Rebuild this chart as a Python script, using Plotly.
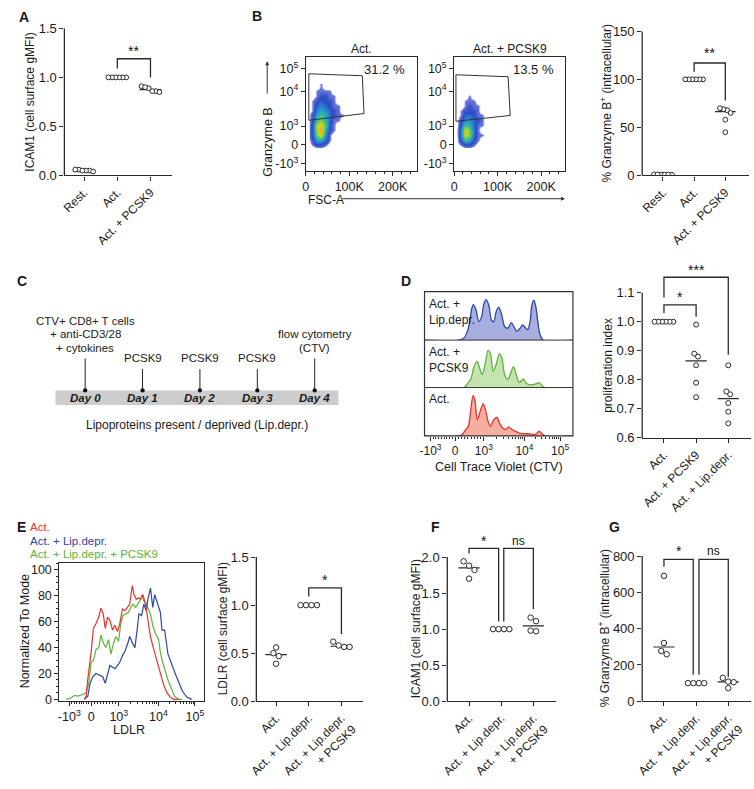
import numpy as np
import plotly.graph_objects as go

W, H = 754, 789
FONT = "Liberation Sans, Arial, sans-serif"
INK = "#2a2a2a"

# ------------------------------------------------------------------ data
A_cats = ["Rest.", "Act.", "Act. + PCSK9"]
A_vals = [[0.05, 0.06, 0.04, 0.05, 0.06, 0.05],
          [1.0, 1.0, 1.0, 1.0, 1.0, 1.0],
          [0.91, 0.86, 0.89, 0.85, 0.90, 0.86]]

B_cats = ["Rest.", "Act.", "Act. + PCSK9"]
B_vals = [[1.0, 1.2, 0.8, 1.0, 1.1, 0.9],
          [100, 100, 100, 100, 100, 100],
          [68, 65, 69, 70, 58, 45]]

B_pct = ["31.2 %", "13.5 %"]
B_titles = ["Act.", "Act. + PCSK9"]
# density of events (FSC-A in K, Granzyme B display channel)
B_fsc = [5, 15, 25, 35, 45, 55, 65, 75, 85, 95]
B_gzb = [22, 27, 32, 37, 42, 47, 52, 57, 62, 67, 72, 77, 82, 87]
B_dens_act = [
    [0, 0, 0, 0, 0, 0, 0, 0, 0, 0],
    [0, 1, 2, 2, 1, 0, 0, 0, 0, 0],
    [0, 2, 5, 5, 3, 1, 0, 0, 0, 0],
    [0, 3, 7, 9, 4, 1, 0, 0, 0, 0],
    [0, 3, 8, 10, 5, 2, 1, 0, 0, 0],
    [0, 3, 8, 9, 6, 2, 1, 0, 0, 0],
    [0, 2, 6, 7, 5, 3, 1, 1, 0, 0],
    [0, 2, 5, 6, 5, 3, 2, 1, 1, 0],
    [0, 1, 4, 5, 4, 3, 2, 1, 0, 0],
    [0, 1, 3, 4, 3, 2, 1, 1, 0, 0],
    [0, 1, 2, 3, 2, 2, 1, 0, 0, 0],
    [0, 0, 1, 2, 2, 1, 1, 0, 0, 0],
    [0, 0, 1, 1, 1, 1, 0, 0, 0, 0],
    [0, 0, 0, 1, 0, 0, 0, 0, 0, 0]]
B_dens_pcsk9 = [
    [0, 0, 0, 0, 0, 0, 0, 0, 0, 0],
    [0, 1, 2, 2, 1, 0, 0, 0, 0, 0],
    [0, 3, 6, 5, 2, 1, 0, 0, 0, 0],
    [0, 4, 9, 7, 3, 1, 1, 0, 0, 0],
    [0, 4, 9, 7, 3, 1, 0, 0, 0, 0],
    [0, 3, 6, 5, 3, 1, 1, 0, 0, 0],
    [0, 2, 4, 4, 3, 2, 1, 0, 0, 0],
    [0, 1, 3, 3, 2, 1, 1, 0, 0, 0],
    [0, 1, 2, 2, 2, 1, 0, 0, 0, 0],
    [0, 0, 1, 2, 1, 1, 0, 0, 0, 0],
    [0, 0, 1, 1, 1, 0, 0, 0, 0, 0],
    [0, 0, 0, 1, 0, 0, 0, 0, 0, 0],
    [0, 0, 0, 0, 0, 0, 0, 0, 0, 0],
    [0, 0, 0, 0, 0, 0, 0, 0, 0, 0]]
B_gate_act = ([7, 130, 134, 7, 7], [100, 98, 59, 52, 100])
B_gate_pcsk9 = ([4, 124, 129, 4, 4], [99, 97, 57, 51, 99])

C_days = ["Day 0", "Day 1", "Day 2", "Day 3", "Day 4"]
C_events = [["CTV+ CD8+ T cells", "+ anti-CD3/28", "+ cytokines"], ["PCSK9"], ["PCSK9"], ["PCSK9"],
            ["flow cytometry", "(CTV)"]]

# CTV histograms (display channel, counts)
D_lip_x = [0, 35, 40, 43.3, 45.7, 47.7, 49.3, 51.7, 55, 57.7, 60, 62.3, 65, 67.7, 70, 72.3, 75, 77.7, 81,
           84.3, 87.7, 90.3, 93.3, 96.7, 99, 101.7, 104.3, 106.7, 108.3, 110.3, 112.3, 114.3, 116.7, 120, 150]
D_lip_y = [0, 0, 2.3, 9, 19, 32.3, 36.7, 32.3, 19, 24, 37.3, 41.7, 35.7, 20.7, 19, 29, 34, 27.3, 14,
           12.3, 18, 14, 9, 12.3, 15.7, 13, 10.7, 19, 34.7, 41.3, 35.7, 20.7, 5.7, 0, 0]
D_pcsk_x = [0, 40, 43.3, 46.7, 50, 53.3, 55.7, 58.3, 61.7, 64.3, 66.7, 69.3, 72.3, 75.7, 78.3, 81, 84.3,
            87.7, 90, 92.7, 95.7, 100, 102.3, 106.7, 113.3, 115.7, 118.3, 121.7, 150]
D_pcsk_y = [0, 0, 4, 8.3, 21.7, 26.7, 20, 13.3, 26.7, 38.3, 35, 16.7, 23.3, 35, 30, 13.3, 8.3,
            16.7, 21.7, 13.3, 5, 9, 5, 2.7, 4, 5, 2.7, 0, 0]
D_act_x = [0, 35, 38.3, 41.7, 44.3, 46.7, 49, 51, 53.3, 56.7, 59.3, 61.7, 64.3, 66.7, 70, 73.3, 75.7, 79,
           82.3, 85, 88.3, 91.7, 95, 100, 105, 112.3, 115.7, 118.3, 121.7, 150]
D_act_y = [0, 0, 1.7, 6.7, 10, 26.7, 41.7, 36.7, 16.7, 26.7, 33.3, 26.7, 15, 10, 16.7, 19.3, 13.3, 8.3,
           6.7, 9.3, 6.7, 5, 3.3, 2.3, 2.3, 1.7, 5, 2.7, 0, 0]
D_hist_labels = ["Act. +<br>Lip.depr.", "Act. +<br>PCSK9", "Act."]

D_cats = ["Act.", "Act. + PCSK9", "Act. + Lip.depr."]
D_vals = [[1.0, 1.0, 1.0, 1.0, 1.0, 1.0],
          [0.99, 0.89, 0.88, 0.85, 0.79, 0.74],
          [0.85, 0.76, 0.75, 0.72, 0.69, 0.65]]

# LDLR histograms (display channel, % of mode)
E_act_x = [25.3, 27, 28.7, 32, 34.3, 37, 39.7, 42, 44.3, 46.3, 48.7, 51, 53.7, 56, 58.7, 61, 63.7, 66.3,
           68.7, 71, 73.7, 75.3, 77.7, 79.7, 82, 84.3, 87, 89.7, 92, 95.3, 98.7, 102, 105.3, 108.7, 112,
           115.3, 120.3]
E_act_y = [0, 2.5, 16.1, 36, 54.7, 58.4, 63.4, 70.3, 65.8, 54.7, 63.4, 60.9, 53.4, 57.1, 52.2, 58.4, 69.6,
           68.3, 70.8, 73.3, 87.7, 80.7, 77, 78.3, 77, 80.7, 73.3, 59.6, 48.4, 38.5, 28.6, 18.6, 11.2, 5,
           1.7, 0, 0]
E_lip_x = [25.3, 28.7, 31, 33.7, 37, 40.3, 43.7, 46.3, 48.7, 51, 53.7, 56.3, 58.7, 61, 63.7, 66.3, 68.7,
           71, 73.7, 76.3, 78.7, 80.3, 83, 85.3, 87.7, 89.7, 92, 94.3, 96.3, 98.7, 100.3, 102, 103.7,
           106.3, 109.7, 113.7, 117.7, 121, 124.3, 128.7, 133.7]
E_lip_y = [0, 2.5, 12.4, 17.4, 19.9, 18.6, 17.4, 12.4, 18.6, 26.1, 24.8, 23.6, 26.1, 28.6, 33.5, 37.3,
           42.2, 48.4, 43.5, 39.8, 54.7, 65.8, 64.6, 73.3, 68.3, 78.3, 85.7, 70.8, 80.7, 74.5, 69.6, 67.1,
           53.4, 53.4, 34.8, 26.1, 18.6, 12.4, 6.2, 1.7, 0]
E_lipp_x = [7, 12, 15.3, 18.7, 23.7, 27, 29.7, 32, 34.3, 37, 39.7, 42, 44.3, 47, 49.7, 52, 54.3, 57,
            59.7, 62, 64.3, 67, 69.7, 72, 74.3, 77, 79.7, 82, 83.7, 85.3, 87, 89.7, 92, 94.3, 97, 100.3,
            102, 104.3, 107, 109.7, 113, 116.3, 120.3, 123.7]
E_lipp_y = [0, 1.2, 3, 2.5, 3.7, 5, 12.4, 28.6, 29.8, 38.5, 39.8, 49.7, 43.5, 39.8, 46, 34.8, 42.2, 48.4,
            44.7, 58.4, 64.6, 65.8, 67.1, 70.8, 73.3, 70.8, 74.5, 77, 80.7, 75.8, 74.5, 69.6, 65.8, 57.1,
            50.9, 46, 36, 28.6, 21.1, 14.9, 8.7, 2.5, 0, 0]
E_legend = ["Act.", "Act. + Lip.depr.", "Act. + Lip.depr. + PCSK9"]

E_cats = ["Act.", "Act. + Lip.depr.", "Act. + Lip.depr.<br>+ PCSK9"]
E_vals = [[0.56, 0.50, 0.47, 0.39], [1.0, 1.0, 1.0, 1.0], [0.62, 0.58, 0.565, 0.565]]
F_vals = [[1.94, 1.88, 1.82, 1.70], [1.0, 1.0, 1.0, 1.0], [1.11, 1.16, 0.97, 0.98]]
G_vals = [[691, 321, 259, 277], [100, 100, 100, 100], [108, 129, 72, 105]]

# ------------------------------------------------------------------ helpers
RED, BLUE, GREEN = "#e8322b", "#2a47a6", "#5cb33b"
fig = go.Figure()
layout = dict(width=W, height=H, margin=dict(l=0, r=0, t=0, b=0), paper_bgcolor="white",
              plot_bgcolor="white", showlegend=False, font=dict(family=FONT, size=12, color="#1a1a1a"))
ann, shp = [], []


def dx(a, b):
    return [a / W, b / W]


def dy(top, bot):
    return [1 - bot / H, 1 - top / H]


def aid(n):
    return "" if n == 1 else str(n)


def text(px, py, t, size=12, color="#1a1a1a", xanchor="center", yanchor="middle", angle=0, align="center"):
    ann.append(dict(x=px / W, y=1 - py / H, xref="paper", yref="paper", text=t, showarrow=False,
                    font=dict(size=size, color=color, family=FONT), xanchor=xanchor, yanchor=yanchor,
                    textangle=angle, align=align))


def swarm(vals, ppu, step, d, gap):
    order = np.argsort(vals)[::-1]
    clusters, cur = [], [order[0]]
    for a, b in zip(order[:-1], order[1:]):
        if abs(vals[a] - vals[b]) * ppu < 0.9 * d:
            cur.append(b)
        else:
            clusters.append(cur)
            cur = [b]
    clusters.append(cur)
    offs = np.zeros(len(vals))
    for c in clusters:
        n = len(c)
        for k, i in enumerate(c):
            offs[i] = (k - (n - 1) / 2) * gap / step
    return offs


def dotplot(n, cats, groups, xpx, xend, cat0, step, ybot, ppu, ymin, ytop, tickvals, ticktext,
            ytitle, ytitle_x, ytitle_y, brackets, msize, gap):
    s = aid(n)
    top_px = ybot - (ytop - ymin) * ppu
    layout["xaxis" + s] = dict(domain=dx(xpx, xend), range=[(xpx - cat0) / step, (xend - cat0) / step],
                               tickvals=list(range(len(cats))), ticktext=cats, tickangle=-45,
                               showline=True, linecolor=INK, linewidth=1.3, ticks="outside", ticklen=4,
                               tickcolor=INK, tickwidth=1.3, showgrid=False, zeroline=False,
                               anchor="y" + s, tickfont=dict(size=12))
    layout["yaxis" + s] = dict(domain=dy(top_px, ybot), range=[ymin, ytop], tickvals=tickvals,
                               ticktext=ticktext, showline=False, ticks="outside", ticklen=4,
                               tickcolor=INK, tickwidth=1.3, showgrid=False, zeroline=False,
                               anchor="x" + s, tickfont=dict(size=13))
    shp.append(dict(type="line", xref="x" + s + " domain", yref="y" + s, x0=0, x1=0, y0=ymin,
                    y1=max(tickvals), line=dict(color=INK, width=1.3)))
    for i, vals in enumerate(groups):
        med = float(np.median(vals))
        fig.add_trace(go.Scatter(x=[i - 0.33, i + 0.33], y=[med, med], mode="lines",
                                 line=dict(color=INK, width=1.2), xaxis="x" + s, yaxis="y" + s,
                                 hoverinfo="skip"))
        offs = swarm(vals, ppu, step, msize, gap)
        fig.add_trace(go.Scatter(x=i + offs, y=vals, mode="markers", xaxis="x" + s, yaxis="y" + s,
                                 marker=dict(symbol="circle", size=msize, color="white",
                                             line=dict(color=INK, width=1))))
    for (x0, x1, yh, l0, l1, lab, ty) in brackets:
        fig.add_trace(go.Scatter(x=[x0, x0, x1, x1], y=[l0, yh, yh, l1], mode="lines",
                                 line=dict(color=INK, width=1.3), xaxis="x" + s, yaxis="y" + s,
                                 hoverinfo="skip"))
        ann.append(dict(x=(x0 + x1) / 2, y=ty, xref="x" + s, yref="y" + s, text=lab, showarrow=False,
                        font=dict(size=14 if "*" in lab else 12, family=FONT, color="#111111")))
    text(ytitle_x, ytitle_y, ytitle, size=12, angle=-90)


# ------------------------------------------------------------------ A
dotplot(1, A_cats, A_vals, 58, 167, 78, 33.5, 174, 101.3, 0, 1.5, [0, 0.5, 1.0, 1.5],
        ["0.0", "0.5", "1.0", "1.5"], "ICAM1 (cell surface gMFI)", 23, 98,
        [(1, 2, 1.19, 1.09, 1.0, "**", 1.27)], 4.8, 3.6)

# ------------------------------------------------------------------ B right
dotplot(4, B_cats, B_vals, 642, 750, 663, 31.5, 174, 0.993, 0, 150, [0, 50, 100, 150],
        ["0", "50", "100", "150"], "% Granzyme B<sup>+</sup> (intracellular)", 605, 100,
        [(1, 2, 117, 108, 78, "**", 127)], 4.8, 3.6)

# ------------------------------------------------------------------ B flow plots
cs = [[0, "rgba(255,255,255,0)"], [0.05, "rgba(255,255,255,0)"], [0.08, "rgba(40,60,200,0.7)"],
      [0.2, "#2a48c4"], [0.35, "#2a86d6"], [0.5, "#2fb8a8"], [0.62, "#6cc850"], [0.75, "#c8d828"],
      [0.88, "#f0b020"], [1, "#e84a20"]]
for n, (x0, x1, dens, gate, pct, ttl) in zip(
        [2, 3],
        [(302, 414, B_dens_act, B_gate_act, B_pct[0], B_titles[0]),
         (452, 564, B_dens_pcsk9, B_gate_pcsk9, B_pct[1], B_titles[1])]):
    s = aid(n)
    layout["xaxis" + s] = dict(domain=dx(x0, x1), range=[0, 255], tickvals=[0, 100, 200],
                               ticktext=["0", "100K", "200K"], showline=True, mirror=True,
                               linecolor=INK, linewidth=1, ticks="outside", ticklen=4, tickcolor=INK,
                               showgrid=False, zeroline=False, anchor="y" + s,
                               minor=dict(ticks="outside", ticklen=2, dtick=20, tickcolor=INK),
                               tickfont=dict(size=12.5))
    layout["yaxis" + s] = dict(domain=dy(52, 169), range=[0, 117], tickvals=[7, 27, 46, 82, 105],
                               ticktext=["-10<sup>3</sup>", "0", "10<sup>3</sup>", "10<sup>4</sup>",
                                         "10<sup>5</sup>"],
                               showline=True, mirror=True, linecolor=INK, linewidth=1, ticks="outside",
                               ticklen=4, tickcolor=INK, showgrid=False, zeroline=False, anchor="x" + s,
                               tickfont=dict(size=12.5))
    fig.add_trace(go.Heatmap(x=B_fsc, y=B_gzb, z=dens, colorscale=cs, zmin=0, zmax=11, zsmooth="best",
                             showscale=False, xaxis="x" + s, yaxis="y" + s, hoverinfo="skip"))
    fig.add_trace(go.Scatter(x=gate[0], y=gate[1], mode="lines", line=dict(color="#333", width=1),
                             xaxis="x" + s, yaxis="y" + s, hoverinfo="skip"))
    ann.append(dict(x=182, y=104, xref="x" + s, yref="y" + s, text=pct, showarrow=False,
                    font=dict(size=13, family=FONT, color="#1a1a1a")))
    text((x0 + x1) / 2, 43, ttl, size=12)

text(263, 140, "Granzyme B", size=12.5, angle=-90)
ann.append(dict(x=263 / W, y=1 - 56 / H, xref="paper", yref="paper", ax=0, ay=34, text="",
                showarrow=True, arrowhead=2, arrowsize=0.8, arrowwidth=1, arrowcolor="#333"))
text(302, 199, "FSC-A", size=12, xanchor="left")
ann.append(dict(x=564 / W, y=1 - 198 / H, xref="paper", yref="paper", ax=-224, ay=0, text="",
                showarrow=True, arrowhead=2, arrowsize=0.8, arrowwidth=1, arrowcolor="#333"))

# ------------------------------------------------------------------ C timeline
shp.append(dict(type="rect", xref="paper", yref="paper", x0=49 / W, x1=335 / W, y0=1 - 411 / H,
                y1=1 - 396 / H, fillcolor="#cdcdcd", line=dict(width=0), layer="below"))
day_x0, day_step = 79, 58
for i, (d, ev) in enumerate(zip(C_days, C_events)):
    px = day_x0 + i * day_step
    top = 363 if i in (0, 4) else 374
    shp.append(dict(type="line", xref="paper", yref="paper", x0=px / W, x1=px / W, y0=1 - 396 / H,
                    y1=1 - top / H, line=dict(color="#222", width=1)))
    shp.append(dict(type="circle", xref="paper", yref="paper", x0=(px - 2.2) / W, x1=(px + 2.2) / W,
                    y0=1 - 398.2 / H, y1=1 - 393.8 / H, fillcolor="#111", line=dict(width=0)))
    text(px, 404, "<b><i>" + d + "</i></b>", size=11.5)
    nl = len(ev)
    for k, line in enumerate(ev):
        text(px, top - 11 - 14 * (nl - 1 - k), line, size=11.5)
text(192, 432, "Lipoproteins present / deprived (Lip.depr.)", size=12)

# ------------------------------------------------------------------ D histograms
panels = [(5, 294, 344, D_lip_x, D_lip_y, BLUE, "rgba(110,120,200,0.6)"),
          (6, 344, 393, D_pcsk_x, D_pcsk_y, GREEN, "rgba(150,205,110,0.55)"),
          (7, 393, 443, D_act_x, D_act_y, RED, "rgba(240,120,95,0.6)")]
dmajor = [6, 31, 60, 101, 137]
dminor = [31 + k * 29 / 9 for k in range(1, 9)] + \
         [60 + np.log10(k) * 41 for k in range(2, 10)] + [101 + np.log10(k) * 36 for k in range(2, 10)] + \
         [6 + k * 25 / 9 for k in range(1, 9)]
for j, (n, t, b, xs, ys, lc, fc) in enumerate(panels):
    s = aid(n)
    last = (n == 7)
    layout["xaxis" + s] = dict(domain=dx(422, 572), range=[0, 150], showgrid=False, zeroline=False,
                               anchor="y" + s, showline=False,
                               tickvals=dmajor if last else [], ticktext=["-10<sup>3</sup>", "0",
                                                                        "10<sup>3</sup>",
                                                                        "10<sup>4</sup>",
                                                                        "10<sup>5</sup>"] if last else [],
                               ticks="outside" if last else "", ticklen=4, tickcolor=INK,
                               minor=dict(ticks="outside", ticklen=2, tickvals=dminor, tickcolor=INK)
                               if last else None,
                               tickfont=dict(size=12))
    layout["yaxis" + s] = dict(domain=dy(t, b), range=[0, b - t], showgrid=False, zeroline=False,
                               showticklabels=False, anchor="x" + s)
    fig.add_trace(go.Scatter(x=xs, y=ys, mode="lines", line=dict(color=lc, width=1.3, shape="spline",
                                                                  smoothing=0.8),
                             fill="tozeroy", fillcolor=fc, xaxis="x" + s, yaxis="y" + s))
    text(425, t + 3, D_hist_labels[j], size=12, xanchor="left", yanchor="top", align="left")
    if j > 0:
        shp.append(dict(type="line", xref="paper", yref="paper", x0=422 / W, x1=572 / W, y0=1 - t / H,
                        y1=1 - t / H, line=dict(color="#333", width=1)))
shp.append(dict(type="rect", xref="paper", yref="paper", x0=422 / W, x1=572 / W, y0=1 - 443 / H,
                y1=1 - 294 / H, line=dict(color="#333", width=1.2)))
text(497, 475, "Cell Trace Violet (CTV)", size=12.5)

# ------------------------------------------------------------------ D right
dotplot(8, D_cats, D_vals, 642, 752, 664, 32.5, 445, 300, 0.6, 1.2, [0.6, 0.7, 0.8, 0.9, 1.0, 1.1],
        ["0.6", "0.7", "0.8", "0.9", "1.0", "1.1"], "proliferation index", 608, 370,
        [(0, 1, 1.058, 1.03, 1.017, "*", 1.086), (0, 2, 1.153, 1.083, 0.886, "***", 1.178)], 5, 3.8)

# ------------------------------------------------------------------ E histogram
s = aid(9)
emajor = [10, 32, 60, 100, 137]
eminor = [32 + k * 28 / 9 for k in range(1, 9)] + [60 + np.log10(k) * 40 for k in range(2, 10)] + \
         [100 + np.log10(k) * 37 for k in range(2, 10)] + [10 + k * 22 / 9 for k in range(1, 9)]
layout["xaxis" + s] = dict(domain=dx(53, 199), range=[0, 146], tickvals=emajor,
                           ticktext=["-10<sup>3</sup>", "0", "10<sup>3</sup>", "10<sup>4</sup>",
                                     "10<sup>5</sup>"], showline=True, mirror=True, linecolor=INK,
                           linewidth=1.2, ticks="outside", ticklen=4, tickcolor=INK, showgrid=False,
                           zeroline=False, anchor="y" + s,
                           minor=dict(ticks="outside", ticklen=2, tickvals=eminor, tickcolor=INK),
                           tickfont=dict(size=12.5))
layout["yaxis" + s] = dict(domain=dy(574, 717), range=[-1.5, 105.2], tickvals=[0, 20, 40, 60, 80, 100],
                           showline=True, mirror=True, linecolor=INK, linewidth=1.2, ticks="outside",
                           ticklen=4, tickcolor=INK, showgrid=False, zeroline=False, anchor="x" + s,
                           minor=dict(ticks="outside", ticklen=2, dtick=5, tickcolor=INK),
                           tickfont=dict(size=12.5))
for xs, ys, c in [(E_lipp_x, E_lipp_y, GREEN), (E_lip_x, E_lip_y, BLUE), (E_act_x, E_act_y, RED)]:
    fig.add_trace(go.Scatter(x=xs, y=ys, mode="lines", line=dict(color=c, width=1.2), xaxis="x" + s,
                             yaxis="y" + s, hoverinfo="skip"))
text(18, 645, "Normalized To Mode", size=12.5, angle=-90)
text(123, 747, "LDLR", size=12.5)
for k, (lab, c) in enumerate(zip(E_legend, [RED, BLUE, GREEN])):
    text(21, 537 + 14 * k, lab, size=11.5, color=c, xanchor="left")

# ------------------------------------------------------------------ E right, F, G
dotplot(10, E_cats, E_vals, 252, 360, 272, 33, 717, 99.3, 0, 1.5, [0, 0.5, 1.0, 1.5],
        ["0.0", "0.5", "1.0", "1.5"], "LDLR (cell surface gMFI)", 218, 642,
        [(1, 2, 1.18, 1.09, 0.70, "*", 1.26)], 5.5, 5.5)
dotplot(11, E_cats, F_vals, 445, 555, 467, 32.5, 717, 74.5, 0, 2.28, [0, 0.5, 1.0, 1.5, 2.0],
        ["0.0", "0.5", "1.0", "1.5", "2.0"], "ICAM1 (cell surface gMFI)", 413, 642,
        [(0, 0.92, 2.12, 2.05, 1.105, "*", 2.22), (1.08, 2, 2.12, 1.105, 1.275, "ns", 2.22)], 5.5, 5.5)
dotplot(12, E_cats, G_vals, 642, 752, 664, 32.5, 717, 0.1875, 0, 855, [0, 200, 400, 600, 800],
        ["0", "200", "400", "600", "800"], "% Granzyme B<sup>+</sup> (intracellular)", 603, 642,
        [(0, 0.91, 782, 741, 146, "*", 830), (1.09, 2, 782, 146, 134, "ns", 830)], 5.5, 5.5)

# ------------------------------------------------------------------ panel letters
for lab, px, py in [("A", 10, 10), ("B", 246, 9), ("C", 8, 283), ("D", 396, 283), ("E", 8, 537),
                    ("F", 427, 537), ("G", 606, 537)]:
    text(px, py, "<b>" + lab + "</b>", size=14, xanchor="left")

layout["annotations"] = ann
layout["shapes"] = shp
fig.update_layout(**layout)
fig.write_html("out.html")
